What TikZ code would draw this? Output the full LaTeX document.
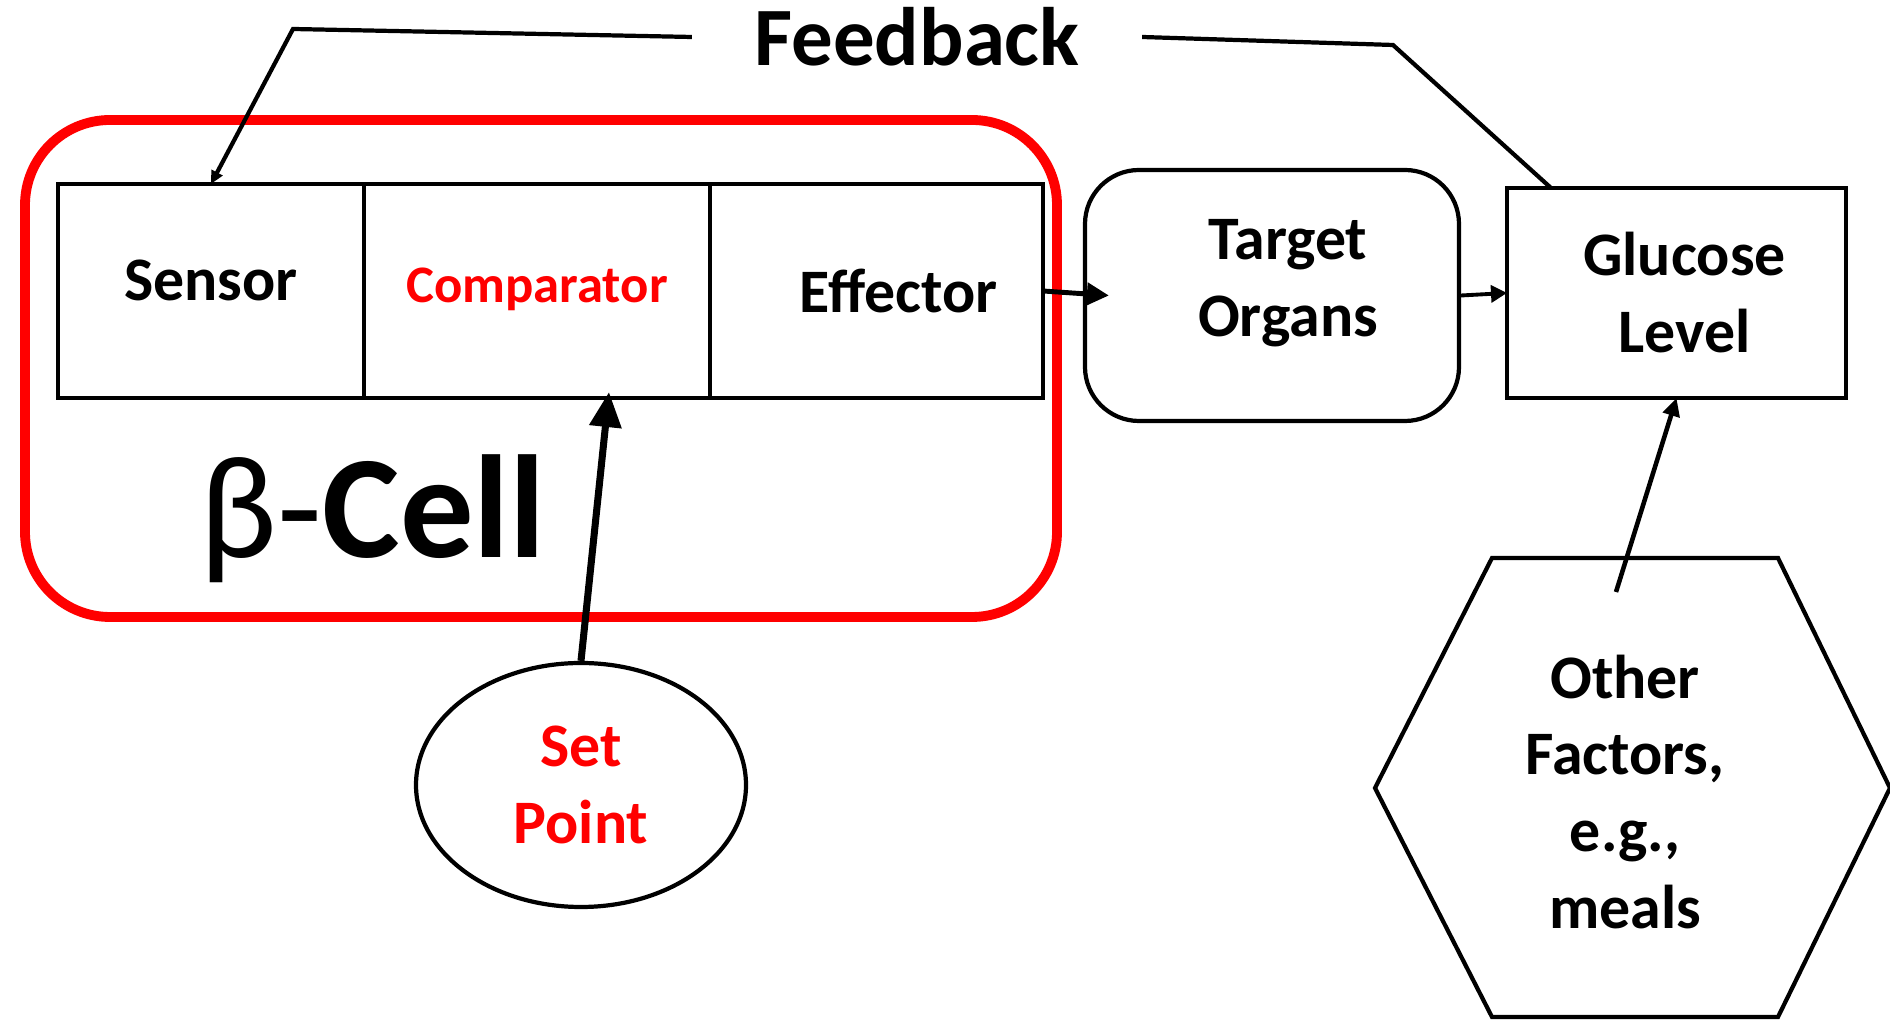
\documentclass[tikz,border=0pt]{standalone}
\usepackage{fontspec}
\setmainfont{Carlito}
\usetikzlibrary{positioning,shapes.geometric,arrows.meta}

\begin{document}
\begin{tikzpicture}[
        every node/.style={font=\bfseries\fontsize{17.6}{21.9}\selectfont, align=center},
        box/.style={draw, line width=1.2pt, inner sep=0pt, outer sep=0pt, minimum height=2.14cm},
        round/.style={draw, line width=1.2pt, inner sep=0pt},
        fbline/.style={line width=1.2pt}
    ]
        \useasboundingbox (0,0) rectangle (18.9,-10.2);
        %% beta cell
        \node[draw=red, line width=2.8pt, rounded corners=0.85cm, inner sep=0pt,
            minimum width=10.32cm, minimum height=4.97cm] (betacell) at (5.41,-3.685) {};
        \node[font=\fontsize{41.7}{48}\selectfont, anchor=base] (cellname) at (3.73,-5.58) {β-\textbf{Cell}};
        \node[box, minimum width=3.06cm, text depth=0.22cm] (sensor) at (2.11,-2.91) {Sensor};
        \node[box, minimum width=3.46cm, right=0pt of sensor, text=red, text depth=0.12cm,
            font=\bfseries\fontsize{15}{18}\selectfont] (comparator) {Comparator};
        \node[box, minimum width=3.33cm, right=0pt of comparator] (effector) {};
        \node (effectortext) at ([xshift=0.22cm]effector) {Effector};
        % right side
        \node[round, rounded corners=0.54cm, minimum width=3.74cm, minimum height=2.51cm] (target) at (12.72,-2.955) {};
        \node (targettext) at ([xshift=0.16cm,yshift=0.12cm]target) {Target\\Organs};
        \node[box, minimum width=3.39cm, minimum height=2.10cm] (glucose) at (16.765,-2.93) {};
        \node (glucosetext) at ([xshift=0.08cm]glucose) {Glucose\\Level};
        \node[round, ellipse, minimum width=3.30cm, minimum height=2.44cm, text=red] (setpoint) at (5.81,-7.85) {Set\\Point};
        \draw[line width=1.2pt] (14.92,-5.58) -- (17.78,-5.58) -- (18.90,-7.88) -- (17.78,-10.17)
            -- (14.92,-10.17) -- (13.75,-7.88) -- cycle;
        \node (factors) at (16.25,-7.92) {Other\\Factors,\\e.g.,\\meals};
        % Feedback loop
        \node[font=\bfseries\fontsize{23.6}{28}\selectfont, inner xsep=0.62cm] (feedback) at (9.17,-0.37) {Feedback};
        \coordinate (fbl) at (2.93,-0.29);
        \coordinate (fbr) at (13.93,-0.45);
        \coordinate (factorstop) at (16.16,-5.92);
        \draw[fbline, -{Triangle[length=0.13cm,width=0.12cm]}] (feedback.west) -- (fbl) -- (sensor.north);
        \draw[fbline] (feedback.east) -- (fbr) -- ([xshift=0.44cm]glucose.north west);
        % arrows
        \draw[line width=1.4pt, -{Triangle[length=0.22cm,width=0.22cm]}] (effector.east) -- ([xshift=0.26cm]target.west);
        \draw[line width=1.1pt, -{Triangle[length=0.16cm,width=0.17cm]}] (target.east) -- (glucose.west);
        \draw[line width=2pt, -{Triangle[length=0.35cm,width=0.31cm]}] (setpoint.north) -- ([xshift=0.72cm,yshift=0.06cm]comparator.south);
        \draw[line width=1.3pt, -{Triangle[length=0.18cm,width=0.17cm]}] (factorstop) -- (glucose.south);
    \end{tikzpicture}
\end{document}
